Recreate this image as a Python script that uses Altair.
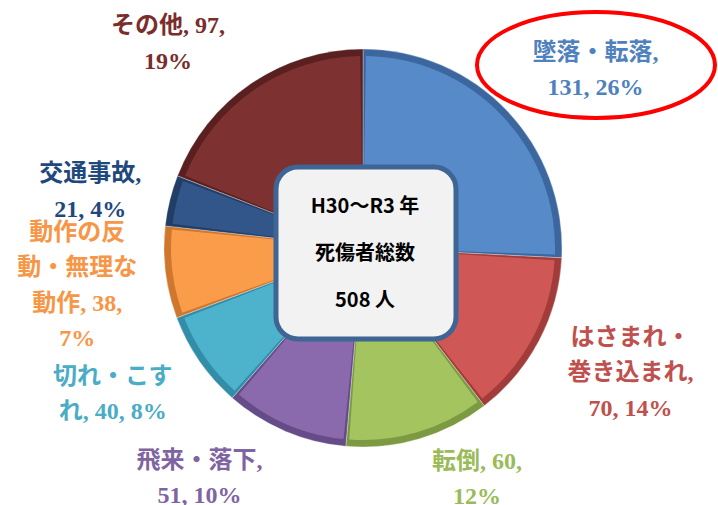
import altair as alt
import pandas as pd

# ---- data ----
categories = ["墜落・転落", "はさまれ・巻き込まれ", "転倒", "飛来・落下",
              "切れ・こすれ", "動作の反動・無理な動作", "交通事故", "その他"]
values = [131, 70, 60, 51, 40, 38, 21, 97]
# label templates (line breaks as in the reference)
label_templates = [
    "墜落・転落,\n{v}, {p}%",
    "はさまれ・\n巻き込まれ,\n{v}, {p}%",
    "転倒, {v},\n{p}%",
    "飛来・落下,\n{v}, {p}%",
    "切れ・こす\nれ, {v}, {p}%",
    "動作の反\n動・無理な\n動作, {v},\n{p}%",
    "交通事故,\n{v}, {p}%",
    "その他, {v},\n{p}%",
]
center_title = ["H30～R3 年", "死傷者総数", "{n} 人"]

total = sum(values)
labels = [t.format(v=v, p=round(v / total * 100)) for t, v in zip(label_templates, values)]
df = pd.DataFrame({"cat": categories, "value": values,
                   "idx": list(range(len(values))), "label": labels})

# ---- styles ----
main_colors = ["#578ac8", "#cf5755", "#a3c45e", "#8a6aad", "#4db3cc", "#fb9c4a", "#32568a", "#7e3131"]
rim_colors = ["#3c679e", "#a23c3a", "#7c9a42", "#654c88", "#328ea8", "#cf772e", "#213e66", "#5a2020"]
text_colors = ["#4f81bd", "#c0504d", "#9bbb59", "#8064a2", "#4bacc6", "#f79646", "#1f497d", "#7a2d2b"]
# offsets of each label block centre from its polar anchor
label_offsets = [(26, 19), (15, -7), (34, -42), (-52, -32), (-16, -16), (-3, 3), (4, 12), (-34, 31)]

CX, CY = 363, 248
LH = 35.5
label_font = "Liberation Serif, Noto Sans CJK JP"
theta_scale = alt.Scale(domain=[0, total])

base = alt.Chart(df)

rim = base.mark_arc(radius=199, stroke="#ffffff", strokeWidth=0.6, strokeOpacity=0.5).encode(
    theta=alt.Theta("value:Q", stack=True, scale=theta_scale),
    order=alt.Order("idx:Q"),
    color=alt.Color("cat:N", scale=alt.Scale(domain=categories, range=rim_colors), legend=None),
    x=alt.value(CX), y=alt.value(CY),
)
face = base.mark_arc(radius=192, padAngle=0.03).encode(
    theta=alt.Theta("value:Q", stack=True, scale=theta_scale),
    order=alt.Order("idx:Q"),
    color=alt.Color("cat:N", scale=alt.Scale(domain=categories, range=main_colors), legend=None),
    x=alt.value(CX), y=alt.value(CY),
)

text_layers = []
for cat, lab, (dx, dy) in zip(categories, labels, label_offsets):
    n_lines = lab.count("\n") + 1
    t = (base.transform_window(cum="sum(value)", sort=[alt.SortField("idx")], frame=[None, 0])
         .transform_calculate(mid="datum.cum - datum.value / 2")
         .transform_filter(alt.datum.cat == cat)
         .mark_text(dx=dx, dy=dy - (n_lines - 1) * LH / 2, lineBreak="\n", lineHeight=LH,
                    fontSize=24, font=label_font, fontWeight="bold",
                    align="center", baseline="middle")
         .encode(
             theta=alt.Theta("mid:Q", stack=None, scale=theta_scale),
             radius=alt.value(285),
             x=alt.value(CX), y=alt.value(CY),
             text="label:N",
             color=alt.Color("cat:N", scale=alt.Scale(domain=categories, range=text_colors), legend=None),
         ))
    text_layers.append(t)

one = alt.Chart(pd.DataFrame({"total": [total]}))
box = one.mark_rect(cornerRadius=22, fill="#f2f2f2", stroke="#3e6593", strokeWidth=5).encode(
    x=alt.value(276), x2=alt.value(456), y=alt.value(167), y2=alt.value(339))
center_text = one.transform_calculate(
    t="'" + center_title[0] + "\\n" + center_title[1] + "\\n' + datum.total + ' 人'"
).mark_text(lineBreak="\n", lineHeight=47, fontSize=20, fontWeight="bold",
            font="Liberation Sans Narrow, Noto Sans CJK JP", color="#000000",
            align="center", baseline="middle").encode(
    x=alt.value(365), y=alt.value(207), text="t:N")

ellipse = one.mark_point(
    shape="M -1 0 A 1 0.445 0 1 1 1 0 A 1 0.445 0 1 1 -1 0 Z",
    size=238 * 238, filled=False, stroke="#ff0000", strokeWidth=4, opacity=1,
).encode(x=alt.value(596), y=alt.value(65))

chart = alt.layer(rim, face, box, center_text, ellipse, *text_layers).resolve_scale(
    color="independent"
).properties(width=718, height=505, padding=0, autosize="none").configure_view(stroke=None)

chart.save("out.html", embed_options={"renderer": "svg", "actions": False})
